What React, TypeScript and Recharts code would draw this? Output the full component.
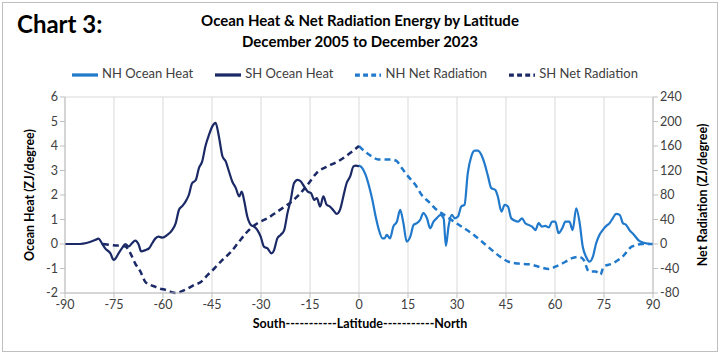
import React from 'react';
import {
  LineChart,
  Line,
  XAxis,
  YAxis,
  CartesianGrid,
  Legend,
} from 'recharts';

// latitude / value pairs
const shOceanLat = [
  -90, -85.4, -80.8, -79.8, -78.7, -77.7, -76.1, -75.1, -74.6, -73.6, -72.6, -71.5, -70.5, -69.5,
  -68.5, -67.4, -66.7, -65.4, -64.3, -63.3, -62.3, -61.3, -60.2, -58.7, -57.2, -56.1, -55.1, -54.1,
  -53.1, -52.1, -51.1, -50, -49, -48, -47, -45.9, -44.9, -43.9, -42.9, -41.8, -40.8, -39.8, -38.8,
  -37.7, -36.7, -35.9, -35.2, -34.2, -33.1, -32.1, -31.1, -30.1, -29.1, -28, -26.8, -26, -25, -24,
  -22.9, -21.9, -20.9, -19.9, -18.8, -17.8, -16.8, -15.7, -14.7, -13.7, -12.9, -11.9, -10.9, -9.9,
  -8.9, -7.8, -6.8, -5.8, -4.8, -3.8, -2.7, -1.7, -1, 0,
];
const shOceanHeat = [
  0, 0, 0.16, 0.22, 0.03, -0.18, -0.38, -0.65, -0.6, -0.38, -0.18, 0, -0.1, 0.03, 0.14, -0.04, -0.3,
  -0.25, -0.18, 0.03, 0.23, 0.3, 0.26, 0.37, 0.57, 0.85, 1.4, 1.55, 1.73, 2.0, 2.48, 2.6, 3.1, 3.37,
  4.0, 4.46, 4.8, 4.94, 4.4, 3.58, 3.37, 2.96, 2.55, 2.28, 1.94, 2.14, 1.8, 1.12, 0.78, 0.71, 0.57,
  0.3, -0.11, -0.18, -0.38, -0.25, 0.23, 0.37, 0.57, 1.26, 1.8, 2.48, 2.62, 2.55, 2.35, 2.14, 2.08,
  1.8, 1.87, 1.53, 1.94, 1.6, 1.53, 1.37, 1.23, 1.4, 1.94, 2.48, 2.76, 3.17, 3.2, 3.17,
];

const nhOceanLat = [
  0, 1, 2, 3.1, 4.1, 5.1, 6.1, 7.2, 7.8, 8.5, 9.5, 10.5, 11.6, 12.6, 13.6, 14.6, 15.7, 16.7, 17.7,
  18.7, 19.7, 20.8, 21.8, 22.8, 23.8, 24.9, 25.9, 26.6, 27.4, 28.4, 29.3, 30.3, 31.3, 32.3, 33.3,
  34.4, 35.4, 36.4, 37.4, 38.4, 39.5, 40.5, 41.7, 42.5, 43.6, 44.6, 45.6, 46.6, 47.6, 48.7, 49.9,
  50.9, 51.9, 53, 54, 55, 56, 57, 58.1, 59.1, 60.1, 61.1, 62.2, 63.2, 64.4, 65.4, 66.5, 67.5, 68.5,
  69.5, 70.6, 71.6, 72.6, 73.6, 74.6, 75.7, 76.7, 77.7, 78.7, 79.8, 80.8, 81.8, 82.8, 84.2, 85.5,
  87.2, 89.3, 90,
];
const nhOceanHeat = [
  3.2, 3.1, 2.83, 2.35, 1.8, 1.12, 0.57, 0.23, 0.23, 0.37, 0.23, 0.71, 0.91, 1.39, 0.85, 0.1, 0.3,
  0.78, 0.85, 0.98, 1.26, 1.05, 0.64, 0.91, 1.05, 1.19, 1.05, -0.08, 0.71, 1.19, 1.05, 1.12, 1.53,
  1.6, 2.89, 3.58, 3.81, 3.81, 3.65, 3.3, 2.76, 2.28, 2.21, 1.94, 1.32, 1.6, 1.53, 1.05, 0.96, 0.91,
  1.05, 0.85, 0.78, 0.71, 0.57, 0.85, 0.71, 0.74, 0.68, 0.91, 0.91, 0.44, 0.64, 0.91, 0.91, 0.57,
  1.46, 0.91, -0.11, -0.52, -0.72, -0.52, 0.03, 0.37, 0.57, 0.74, 0.85, 1.05, 1.23, 1.19, 0.85,
  0.78, 0.57, 0.37, 0.16, 0.05, 0, 0,
];

const shRadLat = [
  -78.4, -75.1, -71.5, -70, -68.5, -66.9, -65.4, -63.8, -62.3, -60.8, -59.2, -57.7, -56.1, -54.6,
  -52.5, -50.5, -48.4, -46.4, -44.3, -41.8, -39.2, -36.7, -34.2, -31.1, -28, -25, -21.9, -18.8,
  -15.7, -12.6, -9.5, -6.4, -3.3, 0,
];
const shNetRadiation = [
  0, -2, -4, -15, -32, -45, -62, -67, -70, -73, -75, -78, -80, -78, -73, -67, -62, -51, -40, -26,
  -13, 4, 20, 34, 42, 53, 64, 78, 97, 118, 127, 135, 146, 160,
];

const nhRadLat = [
  0, 1.8, 3.9, 5.9, 8, 10, 11.6, 13.1, 15.1, 17.2, 19.2, 21.3, 23.3, 25.4, 28.4, 31.5, 34.6, 37.6,
  40.7, 43.8, 45.8, 48.9, 51.9, 55, 58.1, 60.1, 63.2, 65.2, 67.3, 68.8, 70.4, 72.4, 73.9, 74.9,
  77.5, 80.6, 83.6, 86.7, 90,
];
const nhNetRadiation = [
  160, 151, 143, 138, 138, 138, 135, 124, 110, 97, 80, 69, 58, 50, 39, 28, 17, 4, -10, -23, -29,
  -32, -33, -37, -41, -37, -29, -23, -21, -26, -45, -45, -50, -37, -32, -21, -4, 0, 0,
];

const latTicks = [-90, -75, -60, -45, -30, -15, 0, 15, 30, 45, 60, 75, 90];
const heatTicks = [-2, -1, 0, 1, 2, 3, 4, 5, 6];
const radTicks = [-80, -40, 0, 40, 80, 120, 160, 200, 240];
const seriesNames = ['NH Ocean Heat', 'SH Ocean Heat', 'NH Net Radiation', 'SH Net Radiation'];

const zip = (lat: number[], vals: number[]) => lat.map((l, i) => ({ lat: l, v: vals[i] }));

const shOcean = zip(shOceanLat, shOceanHeat);
const nhOcean = zip(nhOceanLat, nhOceanHeat);
const shRad = zip(shRadLat, shNetRadiation);
const nhRad = zip(nhRadLat, nhNetRadiation);

const LIGHT = '#2179CC';
const DARK = '#1B2A66';
const FONT = 'Lato, "Open Sans", sans-serif';
const tick = { fontSize: 12.5, fill: '#404040', fontFamily: FONT };
const axisTitle: React.CSSProperties = {
  position: 'absolute',
  fontFamily: FONT,
  fontWeight: 700,
  fontSize: 12.5,
  color: '#000',
  whiteSpace: 'nowrap',
};

export default function App() {
  return (
    <div
      style={{
        position: 'absolute',
        left: 0,
        top: 0,
        width: 720,
        height: 354,
        background: '#fff',
        fontFamily: FONT,
      }}
    >
      <div
        style={{
          position: 'absolute',
          left: 2,
          top: 2,
          width: 714,
          height: 348,
          border: '1px solid #bfbfbf',
        }}
      />
      <div style={{ position: 'absolute', left: 17, top: 9, fontSize: 24, fontWeight: 700 }}>
        Chart 3:
      </div>
      <div
        style={{
          position: 'absolute',
          left: 0,
          width: 720,
          top: 10,
          textAlign: 'center',
          fontSize: 15,
          fontWeight: 700,
          lineHeight: '21px',
        }}
      >
        Ocean Heat &amp; Net Radiation Energy by Latitude
        <br />
        December 2005 to December 2023
      </div>
      <LineChart
        width={720}
        height={354}
        margin={{ top: 77, right: 0, bottom: 31, left: 0 }}
      >
        <CartesianGrid stroke="#d9d9d9" />
        <XAxis
          type="number"
          dataKey="lat"
          domain={[-90, 90]}
          ticks={latTicks}
          allowDuplicatedCategory={false}
          tick={tick}
          tickLine={{ stroke: '#bfbfbf' }}
          axisLine={{ stroke: '#bfbfbf' }}
          tickSize={5}
          height={30}
        />
        <YAxis
          yAxisId="left"
          domain={[-2, 6]}
          ticks={heatTicks}
          tick={tick}
          tickLine={{ stroke: '#bfbfbf' }}
          axisLine={{ stroke: '#bfbfbf' }}
          tickSize={5}
          width={65}
        />
        <YAxis
          yAxisId="right"
          orientation="right"
          domain={[-80, 240]}
          ticks={radTicks}
          tick={{ ...tick, textAnchor: 'start' }}
          tickLine={{ stroke: '#bfbfbf' }}
          axisLine={{ stroke: '#bfbfbf' }}
          tickSize={5}
          width={67}
        />
        <Legend
          verticalAlign="top"
          height={20}
          iconType="plainline"
          iconSize={26}
          itemSorter={(item: any) => seriesNames.indexOf(item.value)}
          wrapperStyle={{ top: 62, left: 6, width: 720, fontFamily: FONT, fontSize: 13 }}
          formatter={(value) => <span style={{ color: '#404040', marginRight: 12 }}>{value}</span>}
        />
        <Line
          yAxisId="left"
          data={nhOcean}
          dataKey="v"
          name="NH Ocean Heat"
          type="monotone"
          stroke={LIGHT}
          strokeWidth={2.2}
          dot={false}
          isAnimationActive={false}
        />
        <Line
          yAxisId="left"
          data={shOcean}
          dataKey="v"
          name="SH Ocean Heat"
          type="monotone"
          stroke={DARK}
          strokeWidth={2.2}
          dot={false}
          isAnimationActive={false}
        />
        <Line
          yAxisId="right"
          data={nhRad}
          dataKey="v"
          name="NH Net Radiation"
          type="monotone"
          stroke={LIGHT}
          strokeWidth={2.5}
          strokeDasharray="6 4"
          dot={false}
          isAnimationActive={false}
        />
        <Line
          yAxisId="right"
          data={shRad}
          dataKey="v"
          name="SH Net Radiation"
          type="monotone"
          stroke={DARK}
          strokeWidth={2.5}
          strokeDasharray="6 4"
          dot={false}
          isAnimationActive={false}
        />
      </LineChart>
      <div
        style={{
          ...axisTitle,
          left: 29,
          top: 195,
          transform: 'translate(-50%, -50%) rotate(-90deg)',
        }}
      >
        Ocean Heat (ZJ/degree)
      </div>
      <div
        style={{
          ...axisTitle,
          left: 702,
          top: 195,
          transform: 'translate(-50%, -50%) rotate(-90deg)',
        }}
      >
        Net Radiation (ZJ/degree)
      </div>
      <div style={{ ...axisTitle, left: 0, width: 720, top: 316, textAlign: 'center' }}>
        South-----------Latitude-----------North
      </div>
    </div>
  );
}
